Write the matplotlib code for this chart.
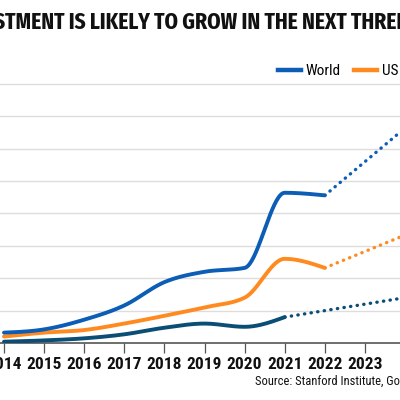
import numpy as np
import matplotlib
matplotlib.use("Agg")
import matplotlib.pyplot as plt
from matplotlib.lines import Line2D

# DATA (gridline step = 25)
years = [2014, 2015, 2016, 2017, 2018, 2019, 2020, 2021, 2022]
world = [8, 10.5, 18, 29, 47, 55, 58, 116, 114]
us = [5, 8, 10, 15, 21, 27.5, 35, 65, 58]
china_years = [2014, 2015, 2016, 2017, 2018, 2019, 2020, 2021]
china = [1, 2, 3.6, 6.7, 11.8, 15, 12.5, 20]

# projections (dotted)
proj_years = [2022, 2025]
world_proj = [114, 192]
us_proj = [58, 96]
china_proj_years = [2021, 2025]
china_proj = [20, 40]

tick_years = list(range(2014, 2026))
title = "AI INVESTMENT IS LIKELY TO GROW IN THE NEXT THREE YEARS"
source = "Source: Stanford Institute, Goldman Sachs Global Investment Research"

BLUE = "#0b5db5"
ORANGE = "#ff8a1f"
TEAL = "#0a4d75"
FONT = ["Roboto Condensed", "DejaVu Sans"]
TFONT = ["Fira Sans Extra Condensed", "Barlow Condensed", "Roboto Condensed", "DejaVu Sans"]


def monotone(x, y, n=40):
    # monotone cubic curve through the points (like d3 curveMonotoneX)
    x = np.asarray(x, float)
    y = np.asarray(y, float)
    h = np.diff(x)
    s = np.diff(y) / h
    m = np.zeros_like(y)
    for i in range(1, len(y) - 1):
        p = (s[i - 1] * h[i] + s[i] * h[i - 1]) / (h[i - 1] + h[i])
        m[i] = (np.sign(s[i - 1]) + np.sign(s[i])) * min(abs(s[i - 1]), abs(s[i]), 0.5 * abs(p))
    m[0] = (3 * s[0] - m[1]) / 2
    m[-1] = (3 * s[-1] - m[-2]) / 2
    xs, ys = [], []
    t = np.linspace(0, 1, n)
    for i in range(len(h)):
        h00 = 2 * t**3 - 3 * t**2 + 1
        h10 = t**3 - 2 * t**2 + t
        h01 = -2 * t**3 + 3 * t**2
        h11 = t**3 - t**2
        xs.append(x[i] + t * h[i])
        ys.append(h00 * y[i] + h10 * h[i] * m[i] + h01 * y[i + 1] + h11 * h[i] * m[i + 1])
    return np.concatenate(xs), np.concatenate(ys)


fig = plt.figure(figsize=(4, 4), dpi=100)
ax = fig.add_axes([0, 0.1425, 1, 0.6475 * 210 / 200])
ax.set_facecolor("none")

ax.set_yticks(range(25, 201, 25))
ax.yaxis.grid(True, color="#dddddd", linewidth=1)
ax.tick_params(axis="y", left=False, labelleft=False)
for side in ["top", "right", "left"]:
    ax.spines[side].set_visible(False)
ax.spines["bottom"].set_color("#555555")
ax.spines["bottom"].set_linewidth(1.2)

ax.set_xticks(tick_years)
ax.set_xticklabels([str(y) for y in tick_years], fontsize=12.5, fontweight="bold",
                   family=FONT, color="#111111")
ax.tick_params(axis="x", length=7, width=0.9, color="#555555", pad=3)

dots = (0, (0.1, 1.9))
ax.plot(*monotone(china_years, china), color=TEAL, lw=2.8, solid_capstyle="round", zorder=3)
ax.plot(china_proj_years, china_proj, color=TEAL, lw=2.4, ls=dots, dash_capstyle="round", zorder=3)
ax.plot(*monotone(years, us), color=ORANGE, lw=2.8, solid_capstyle="round", zorder=4)
ax.plot(proj_years, us_proj, color=ORANGE, lw=2.4, ls=dots, dash_capstyle="round", zorder=4)
ax.plot(*monotone(years, world), color=BLUE, lw=2.8, solid_capstyle="round", zorder=5)
ax.plot(proj_years, world_proj, color=BLUE, lw=2.4, ls=dots, dash_capstyle="round", zorder=5)

# limits last: set_xticks widens the view
ax.set_xlim(2013.9, 2013.9 + 400 / 40.1)
ax.set_ylim(0, 210)

handles = [Line2D([], [], color=c, lw=3.2) for c in (BLUE, ORANGE, TEAL)]
fig.legend(handles, ["World", "US", "China"], ncol=3, frameon=False,
           loc="center left", bbox_to_anchor=(278 / 400, 1 - 71 / 400),
           borderaxespad=0, borderpad=0, handlelength=1.5, handletextpad=0.3,
           columnspacing=0.9, prop={"family": FONT, "size": 11})

# title: size it so the visible part "STMENT ... THRE" spans the width
probe = fig.text(0, 0, "STMENT IS LIKELY TO GROW IN THE NEXT THRE", fontsize=20,
                 fontweight="bold", family=TFONT)
fig.canvas.draw()
w = probe.get_window_extent().width
probe.remove()
fig.text(0.5, 1 - 22 / 400, title, ha="center", va="center", fontsize=20 * 402 / w,
         fontweight="bold", family=TFONT, color="#111111")
fig.text(255 / 400, 1 - 381 / 400, source, ha="left", va="center", fontsize=9,
         family=FONT, color="#111111")

fig.savefig("out.png", dpi=100)
